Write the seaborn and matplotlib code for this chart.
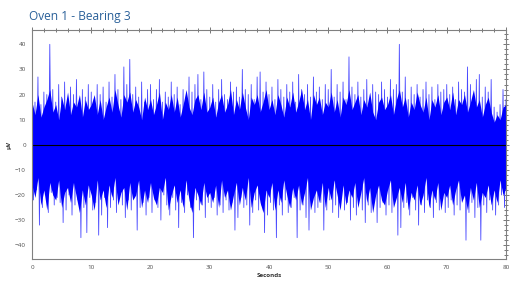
import numpy as np
import pandas as pd
import matplotlib
matplotlib.use("Agg")
import matplotlib.pyplot as plt
from matplotlib.ticker import MultipleLocator
import seaborn as sns

# ---- data ----
# positive peaks, one every 0.5 s from t = 0 to 80
upper_peaks = [
    19, 17, 27, 16, 21, 20, 40, 22, 17, 24, 19, 25, 18, 23, 20, 26, 17, 22, 19, 24,
    21, 18, 24, 20, 23, 17, 25, 19, 28, 22, 18, 31, 24, 34, 20, 23, 19, 25, 17, 22,
    24, 18, 22, 26, 17, 21, 19, 25, 20, 23, 16, 22, 19, 27, 21, 24, 28, 18, 29, 22,
    19, 24, 17, 22, 26, 20, 18, 25, 21, 23, 19, 30, 22, 20, 24, 18, 27, 29, 21, 25,
    20, 23, 18, 26, 22, 19, 24, 21, 25, 17, 28, 22, 20, 24, 19, 27, 21, 23, 18, 24,
    22, 30, 19, 24, 21, 25, 18, 35, 23, 20, 25, 19, 22, 26, 18, 24, 21, 20, 25, 22,
    19, 26, 22, 24, 40, 21, 27, 18, 23, 20, 24, 19, 22, 25, 20, 23, 18, 24, 21, 22,
    24, 20, 23, 18, 25, 22, 21, 31, 24, 20, 26, 28, 19, 23, 21, 26, 15, 13, 16, 22,
    18,
]
# negative peaks, one every 0.5 s from t = 0.25 to 79.75
lower_peaks = [
    -22, -18, -32, -25, -20, -27, -19, -24, -21, -23, -31, -26, -20, -28, -24, -22, -37, -25, -35, -21,
    -26, -23, -36, -28, -21, -33, -25, -22, -27, -20, -24, -29, -22, -26, -19, -34, -25, -23, -28, -21,
    -27, -22, -25, -30, -20, -24, -28, -21, -26, -33, -23, -27, -20, -25, -37, -22, -26, -24, -29, -23,
    -25, -21, -28, -24, -27, -22, -26, -23, -34, -29, -21, -25, -24, -32, -27, -22, -26, -24, -35, -28,
    -23, -26, -37, -24, -28, -22, -27, -25, -21, -37, -26, -24, -29, -34, -22, -27, -25, -23, -34, -26,
    -22, -27, -24, -29, -21, -26, -23, -30, -25, -28, -22, -26, -31, -24, -27, -21, -31, -25, -23, -28,
    -24, -27, -22, -36, -33, -25, -23, -28, -21, -26, -32, -24, -27, -22, -25, -29, -23, -26, -21, -27,
    -25, -22, -28, -24, -26, -21, -38, -27, -23, -29, -25, -38, -24, -27, -22, -26, -28, -24, -20, -25,
]
# dense dark core of the signal, one value every 0.5 s from t = 0 to 80
core_upper = [
    17, 12, 20, 11, 15, 18, 22, 13, 16, 10, 19, 14, 21, 12, 17, 15, 20, 11, 18, 14,
    16, 20, 12, 18, 10, 15, 19, 13, 22, 16, 11, 20, 17, 21, 13, 18, 15, 10, 19, 14,
    18, 12, 16, 21, 10, 17, 14, 20, 13, 19, 11, 16, 22, 15, 12, 18, 20, 14, 21, 13,
    15, 19, 11, 17, 20, 13, 16, 22, 12, 18, 14, 21, 15, 10, 19, 16, 20, 13, 17, 22,
    14, 18, 12, 20, 16, 11, 19, 15, 21, 13, 17, 22, 14, 18, 10, 20, 16, 19, 12, 17,
    15, 21, 13, 18, 11, 19, 16, 22, 14, 17, 20, 12, 18, 15, 21, 13, 10, 17, 19, 14,
    16, 20, 12, 18, 22, 15, 19, 11, 17, 14, 21, 16, 13, 19, 10, 18, 15, 20, 12, 17,
    19, 14, 21, 12, 18, 16, 20, 13, 17, 22, 15, 18, 11, 16, 19, 13, 9, 12, 10, 15,
    16,
]
core_lower = [
    -16, -21, -13, -24, -18, -26, -15, -20, -22, -14, -25, -19, -17, -23, -15, -21, -27, -18, -24, -16,
    -20, -26, -14, -22, -18, -25, -16, -21, -13, -24, -19, -17, -26, -15, -22, -20, -14, -25, -18, -23,
    -15, -21, -24, -17, -19, -13, -26, -20, -16, -23, -18, -25, -14, -22, -27, -17, -20, -24, -15, -21,
    -19, -23, -16, -25, -14, -21, -18, -26, -20, -15, -24, -17, -22, -13, -25, -19, -16, -23, -27, -18,
    -21, -15, -26, -18, -23, -14, -20, -25, -17, -22, -16, -24, -19, -13, -26, -21, -18, -23, -15, -25,
    -17, -22, -14, -20, -26, -16, -24, -18, -21, -15, -25, -19, -13, -23, -17, -27, -20, -16, -22, -24,
    -18, -14, -25, -21, -17, -23, -15, -26, -19, -22, -16, -24, -20, -13, -25, -18, -22, -15, -26, -19,
    -21, -16, -24, -18, -14, -23, -20, -26, -17, -22, -15, -25, -19, -21, -16, -24, -18, -23, -14, -20,
    -17,
]
y_ticks = [-40, -30, -20, -10, 0, 10, 20, 30, 40]
x_ticks = [0, 10, 20, 30, 40, 50, 60, 70, 80]
title = "Oven 1 - Bearing 3"

# ---- build signal table ----
t_up = np.arange(len(upper_peaks)) * 0.5
t_lo = np.arange(len(lower_peaks)) * 0.5 + 0.25
sig = pd.DataFrame({
    "t": np.concatenate([t_up, t_lo]),
    "v": np.concatenate([upper_peaks, lower_peaks]),
}).sort_values("t")
t_core = np.arange(len(core_upper)) * 0.5

sns.set_theme(style="white")
plt.rcParams["font.family"] = ["Open Sans", "DejaVu Sans"]

fig = plt.figure(figsize=(5.14, 2.89), dpi=100)
ax = fig.add_axes([0.0623, 0.1038, 0.9221, 0.7932])

sns.lineplot(data=sig, x="t", y="v", ax=ax, color="#4848ff", lw=0.6,
             estimator=None, sort=False, zorder=2)
ax.fill_between(t_core, core_lower, core_upper, color="#0000ff", lw=0,
                zorder=3)
ax.axhline(0, color="black", lw=0.8, zorder=4)

ax.set_xlim(0, 80)
ax.set_ylim(-45.5, 45.8)
ax.set_xticks(x_ticks)
ax.set_yticks(y_ticks)
ax.xaxis.set_minor_locator(MultipleLocator(2))
ax.yaxis.set_minor_locator(MultipleLocator(2))
ax.tick_params(axis="both", which="both", colors="#606060", labelsize=4.5,
               labelcolor="#505050", width=0.6)
ax.tick_params(axis="x", which="major", direction="inout", length=5, pad=2,
               top=True)
ax.tick_params(axis="x", which="minor", direction="inout", length=3, top=True)
ax.tick_params(axis="y", which="major", direction="inout", length=5, pad=2,
               right=True)
ax.tick_params(axis="y", which="minor", direction="inout", length=3, right=True)
for s in ax.spines.values():
    s.set_color("#808080")
    s.set_linewidth(0.8)
    s.set_zorder(5)

ax.set_xlabel("Seconds", fontsize=4.5, fontweight="bold", labelpad=2,
              color="#333333")
ax.set_ylabel("µV", fontsize=4.5, fontweight="bold", labelpad=2,
              color="#333333")
ax.grid(False)

fig.text(0.056, 0.922, title, fontsize=8.6, color="#2a6099", ha="left",
         va="bottom")

fig.savefig("out.png", dpi=100)
